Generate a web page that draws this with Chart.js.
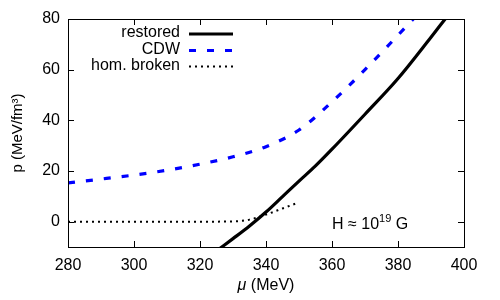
<!DOCTYPE html>
<html>
<head>
<meta charset="utf-8">
<script src="https://cdn.jsdelivr.net/npm/chart.js@4"></script>
<style>
  body { margin: 0; background: #fff; }
  #wrap { width: 500px; height: 300px; }
</style>
</head>
<body>
<div id="wrap"><canvas id="myChart" width="500" height="300"></canvas></div>
<script>
var muRestored = [326, 330, 335, 340, 345, 350, 355, 360, 370, 380, 390, 394.3]
var pRestored = [-10.6, -6.7, -1.7, 3.8, 9.9, 16, 22, 28.6, 42.4, 56.5, 72.8, 80]
var muCdw = [280, 290, 300, 310, 320, 330, 340, 350, 360, 370, 380, 385]
var pCdw = [15.3, 16.8, 18.4, 20.3, 22.7, 25.6, 29.6, 36.2, 47.3, 60, 73.6, 80.5]
var muBroken = [280, 290, 300, 310, 320, 330, 335, 340, 345, 349.5]
var pBroken = [0, 0, 0, 0, 0, 0.1, 0.8, 2.8, 5.2, 7.4]
var xTicks = [280, 300, 320, 340, 360, 380, 400]
var yTicks = [0, 20, 40, 60, 80]
var seriesNames = ['restored', 'CDW', 'hom. broken']

var FONT = '"Liberation Sans", Arial, sans-serif'

function pts (xs, ys) {
  return xs.map(function (x, i) { return { x: x, y: ys[i] } })
}

// frame, inside ticks, legend and labels drawn like gnuplot
var gnuplotBits = {
  id: 'gnuplotBits',
  afterDraw: function (chart) {
    var ctx = chart.ctx
    var a = chart.chartArea
    var xs = chart.scales.x
    var ys = chart.scales.y
    ctx.save()
    ctx.strokeStyle = '#000'
    ctx.lineWidth = 1
    ctx.strokeRect(Math.round(a.left) + 0.5, Math.round(a.top) + 0.5, Math.round(a.right - a.left), Math.round(a.bottom - a.top))
    ctx.beginPath()
    xTicks.forEach(function (v) {
      var px = Math.round(xs.getPixelForValue(v)) + 0.5
      ctx.moveTo(px, a.bottom); ctx.lineTo(px, a.bottom - 6)
      ctx.moveTo(px, a.top); ctx.lineTo(px, a.top + 6)
    })
    yTicks.forEach(function (v) {
      var py = Math.round(ys.getPixelForValue(v)) + 0.5
      ctx.moveTo(a.left, py); ctx.lineTo(a.left + 6, py)
      ctx.moveTo(a.right, py); ctx.lineTo(a.right - 6, py)
    })
    ctx.stroke()

    // legend
    ctx.font = '16px ' + FONT
    ctx.fillStyle = '#000'
    ctx.textAlign = 'right'
    ctx.textBaseline = 'middle'
    var rowY = [34, 50.5, 66.5]
    chart.data.datasets.forEach(function (ds, i) {
      ctx.fillText(seriesNames[i], 180, rowY[i] - 1)
      ctx.save()
      ctx.strokeStyle = ds.borderColor
      ctx.lineWidth = ds.borderWidth
      ctx.setLineDash(ds.borderDash || [])
      ctx.beginPath()
      ctx.moveTo(189, rowY[i]); ctx.lineTo(233, rowY[i])
      ctx.stroke()
      ctx.restore()
    })

    // field label
    ctx.textAlign = 'left'
    ctx.textBaseline = 'alphabetic'
    var x = 332
    var t1 = 'H \u2248 10'
    ctx.fillText(t1, x, 229)
    x += ctx.measureText(t1).width
    ctx.font = '11px ' + FONT
    ctx.fillText('19', x, 222)
    x += ctx.measureText('19').width
    ctx.font = '16px ' + FONT
    ctx.fillText(' G', x, 229)

    // x title with italic mu
    var cx = (a.left + a.right) / 2
    ctx.font = 'italic 16px ' + FONT
    var wMu = ctx.measureText('\u03bc').width
    ctx.font = '16px ' + FONT
    var wRest = ctx.measureText(' (MeV)').width
    var sx = cx - (wMu + wRest) / 2
    ctx.font = 'italic 16px ' + FONT
    ctx.fillText('\u03bc', sx, 290)
    ctx.font = '16px ' + FONT
    ctx.fillText(' (MeV)', sx + wMu, 290)
    ctx.restore()
  }
}

var ctx = document.getElementById('myChart')
var myChart = new Chart(ctx, {
  type: 'line',
  data: {
    datasets: [
      {
        label: seriesNames[0],
        data: pts(muRestored, pRestored),
        borderColor: '#000',
        borderWidth: 3.2,
        cubicInterpolationMode: 'monotone',
        pointRadius: 0,
        fill: false
      },
      {
        label: seriesNames[1],
        data: pts(muCdw, pCdw),
        borderColor: '#0000ff',
        borderWidth: 3.2,
        borderDash: [7, 11],
        cubicInterpolationMode: 'monotone',
        pointRadius: 0,
        fill: false
      },
      {
        label: seriesNames[2],
        data: pts(muBroken, pBroken),
        borderColor: '#000',
        borderWidth: 2,
        borderDash: [2, 4],
        cubicInterpolationMode: 'monotone',
        pointRadius: 0,
        fill: false
      }
    ]
  },
  options: {
    responsive: false,
    animation: false,
    devicePixelRatio: 1,
    layout: { padding: { top: 19, right: 36, left: 0, bottom: 0 } },
    plugins: { legend: { display: false }, tooltip: { enabled: false } },
    scales: {
      x: {
        type: 'linear',
        min: 280,
        max: 400,
        afterBuildTicks: function (scale) {
          scale.ticks = xTicks.map(function (v) { return { value: v } })
        },
        afterFit: function (scale) { scale.height = 53 },
        grid: { display: false, drawTicks: false },
        border: { display: false },
        ticks: { color: '#000', padding: 9, maxRotation: 0, font: { family: FONT, size: 16 } }
      },
      y: {
        min: -10,
        max: 80,
        afterBuildTicks: function (scale) {
          scale.ticks = yTicks.map(function (v) { return { value: v } })
        },
        afterFit: function (scale) { scale.width = 68 },
        grid: { display: false, drawTicks: false },
        border: { display: false },
        ticks: { color: '#000', padding: 8, font: { family: FONT, size: 16 } },
        title: {
          display: true,
          text: 'p (MeV/fm\u00b3)',
          color: '#000',
          padding: { top: 9, bottom: 0 },
          font: { family: FONT, size: 15 }
        }
      }
    }
  },
  plugins: [gnuplotBits]
})
</script>
</body>
</html>
